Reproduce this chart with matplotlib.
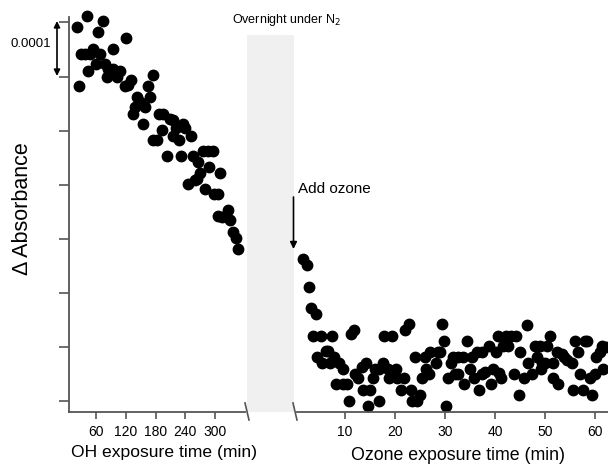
import matplotlib
matplotlib.use("Agg")
import matplotlib.pyplot as plt
from matplotlib.patches import Rectangle, FancyArrowPatch
from matplotlib.lines import Line2D

plt.rcParams['font.family'] = ['Liberation Sans', 'DejaVu Sans']

# OH exposure (min) vs change in absorbance (units of 1e-4)
oh_time = [21.1, 41.2, 73.5, 63.4, 120.5, 93.7, 29.7, 37.8, 47.9, 54.6, 68.1, 60.0,
           44.5, 78.2, 84.8, 81.6, 94.9, 101.8, 108.4, 25.7, 118.5, 125.1, 130.6,
           174.4, 165.5, 168.9, 143.3, 148.7, 138.7, 135.2, 158.8, 155.4, 187.7,
           195.7, 209.3, 214.7, 234.9, 193.7, 221.3, 239.5, 251.0, 216.0, 228.0,
           175.6, 182.4, 202.6, 231.4, 255.0, 265.1, 276.4, 286.5, 295.4, 288.5,
           310.1, 269.8, 263.1, 259.7, 246.2, 279.8, 298.6, 305.4, 306.7, 313.5,
           326.8, 322.2, 330.3, 336.9, 342.4, 345.8]
oh_dabs = [6.91, 7.12, 7.02, 6.82, 6.72, 6.51, 6.42, 6.42, 6.42, 6.51, 6.42, 6.24,
           6.11, 6.24, 6.13, 6.00, 6.13, 6.00, 6.11, 5.82, 5.82, 5.84, 5.93,
           6.02, 5.82, 5.62, 5.62, 5.53, 5.44, 5.31, 5.44, 5.12, 5.31,
           5.31, 5.22, 5.20, 5.13, 5.02, 5.04, 5.04, 4.91, 4.91, 4.82,
           4.82, 4.82, 4.53, 4.53, 4.53, 4.42, 4.62, 4.62, 4.62, 4.33,
           4.22, 4.22, 4.11, 4.08, 4.02, 3.92, 3.82, 3.82, 3.42, 3.40,
           3.53, 3.42, 3.34, 3.13, 3.02, 2.82]

# Ozone exposure (min) vs change in absorbance (units of 1e-4)
o3_time = [1.68, 2.36, 2.82, 3.16, 4.22, 3.56, 5.15, 7.47, 4.48, 6.15, 6.67, 5.47,
           7.01, 7.87, 8.86, 9.54, 8.20, 9.54, 10.34, 10.86, 11.14, 11.80, 12.05,
           12.65, 13.33, 14.19, 13.53, 14.99, 14.53, 15.52, 15.98, 16.84, 16.84,
           17.52, 17.84, 19.31, 18.64, 20.17, 18.78, 20.43, 21.83, 21.17, 21.97,
           22.76, 23.10, 23.30, 24.30, 23.96, 24.96, 25.42, 25.96, 26.15, 26.81,
           26.95, 28.09, 28.49, 28.95, 29.29, 29.74, 30.08, 30.60, 31.08, 31.60,
           31.94, 32.60, 32.48, 33.47, 33.79, 34.39, 34.93, 35.27, 35.79, 36.27,
           37.26, 36.78, 37.26, 37.92, 38.72, 39.12, 39.58, 40.06, 40.57, 40.77,
           41.11, 41.57, 42.57, 42.11, 43.11, 44.10, 43.77, 44.76, 44.90, 45.76,
           46.24, 46.56, 47.24, 47.89, 48.89, 48.23, 49.23, 49.03, 49.89, 50.23,
           50.89, 51.42, 51.54, 52.42, 52.22, 53.22, 53.74, 54.22, 55.22, 56.01,
           55.53, 57.53, 56.53, 57.00, 58.00, 58.40, 58.86, 59.32, 59.86, 60.20,
           60.86, 61.40, 62.20, 61.52]
o3_dabs = [2.62, 2.51, 2.11, 1.72, 1.61, 1.21, 1.21, 1.21, 0.81, 0.92, 0.92, 0.71,
           0.71, 0.82, 0.71, 0.60, 0.31, 0.31, 0.31, 0.01, 1.25, 1.32, 0.51,
           0.42, 0.63, 0.71, 0.20, 0.20, -0.09, 0.42, 0.60, 0.60, 0.01,
           0.71, 1.21, 1.21, 0.60, 0.60, 0.42, 0.42, 0.42, 0.20, 1.31,
           1.42, 0.20, 0.01, 0.01, 0.81, 0.11, 0.42, 0.82, 0.60, 0.51,
           0.91, 0.71, 0.91, 0.91, 1.42, 1.11, -0.09, 0.42, 0.71, 0.81,
           0.51, 0.51, 0.81, 0.81, 0.31, 1.11, 0.60, 0.82, 0.42, 0.91,
           0.91, 0.20, 0.50, 0.54, 1.02, 0.31, 0.60, 0.91, 1.21, 0.52,
           0.42, 1.02, 1.02, 1.21, 1.21, 1.21, 0.51, 0.11, 0.91, 0.42,
           1.40, 0.71, 0.51, 1.02, 1.02, 0.81, 0.71, 0.60, 0.71, 1.02,
           1.21, 0.71, 0.42, 0.31, 0.91, 0.88, 0.81, 0.76, 0.71, 1.11,
           0.20, 0.20, 0.91, 0.51, 1.11, 1.11, 0.42, 0.11, 0.51, 0.81,
           0.91, 1.02, 1.00, 0.60]

oh_ticks = [60, 120, 180, 240, 300]
o3_ticks = [10, 20, 30, 40, 50, 60]
y_ticks = [0, 1, 2, 3, 4, 5, 6, 7]
scale_label = "0.0001"

W, H = 608, 467
fig = plt.figure(figsize=(W / 100, H / 100), dpi=100)


def fx(px):
    return px / W


def fy(py):
    return 1 - py / H


axis_color = "#555555"
ylim = (-0.2, 7.1)
y_bot, y_top = 412, 17

ax_l = fig.add_axes([fx(69), fy(y_bot), fx(245) - fx(69), fy(y_top) - fy(y_bot)])
ax_r = fig.add_axes([fx(297), fy(y_bot), fx(W) - fx(297), fy(y_top) - fy(y_bot)])

for ax in (ax_l, ax_r):
    ax.set_facecolor("none")
    ax.set_ylim(*ylim)
    for s in ("top", "right"):
        ax.spines[s].set_visible(False)
    ax.spines["bottom"].set_color(axis_color)
    ax.spines["bottom"].set_linewidth(1.3)
    ax.tick_params(axis="x", direction="out", length=5, width=1.2,
                   color=axis_color, labelsize=10, pad=4)

ax_l.spines["left"].set_color(axis_color)
ax_l.spines["left"].set_linewidth(1.3)
ax_l.set_yticks(y_ticks)
ax_l.set_yticklabels([])
ax_l.tick_params(axis="y", direction="out", length=7, width=1.2, color=axis_color)
ax_l.set_xlim(5.5, 360.5)
ax_l.set_xticks(oh_ticks)
ax_l.plot(oh_time, oh_dabs, "o", color="black", ms=7.5, clip_on=False)

ax_r.spines["left"].set_visible(False)
ax_r.set_yticks([])
ax_r.set_xlim(0.4, 62.5)
ax_r.set_xticks(o3_ticks)
ax_r.plot(o3_time, o3_dabs, "o", color="black", ms=7.5, clip_on=False)

# overnight gap band
fig.patches.append(Rectangle((fx(247), fy(412)), fx(294) - fx(247), fy(35) - fy(412),
                             transform=fig.transFigure, facecolor="#f0f0f0",
                             edgecolor="none", zorder=0))
fig.text(fx(286), fy(20), "Overnight under N$_2$", ha="center", va="center", fontsize=9)

# axis break marks
for x0 in (245, 293):
    fig.add_artist(Line2D([fx(x0), fx(x0 + 4)], [fy(403), fy(420)],
                          transform=fig.transFigure, color=axis_color, lw=1.2))

# ozone addition marker
fig.text(fx(298), fy(189), "Add ozone", ha="left", va="center", fontsize=11)
fig.add_artist(FancyArrowPatch((fx(293.5), fy(197)), (fx(293.5), fy(249)),
                               transform=fig.transFigure, arrowstyle="-|>",
                               mutation_scale=10, color="black", lw=1.2,
                               shrinkA=0, shrinkB=0))

# vertical scale bar
fig.add_artist(FancyArrowPatch((fx(57), fy(76)), (fx(57), fy(21)),
                               transform=fig.transFigure, arrowstyle="<|-|>",
                               mutation_scale=9, color="black", lw=1.2,
                               shrinkA=0, shrinkB=0))
fig.text(fx(31), fy(44), scale_label, ha="center", va="center", fontsize=9.5)

# axis titles
fig.text(fx(23), fy(209), "\u0394 Absorbance", rotation=90, ha="center", va="center",
         fontsize=15.5)
fig.text(fx(164), fy(453), "OH exposure time (min)", ha="center", va="center", fontsize=12.6)
fig.text(fx(458), fy(455), "Ozone exposure time (min)", ha="center", va="center",
         fontsize=12.8)

fig.savefig("out.png", dpi=100)
